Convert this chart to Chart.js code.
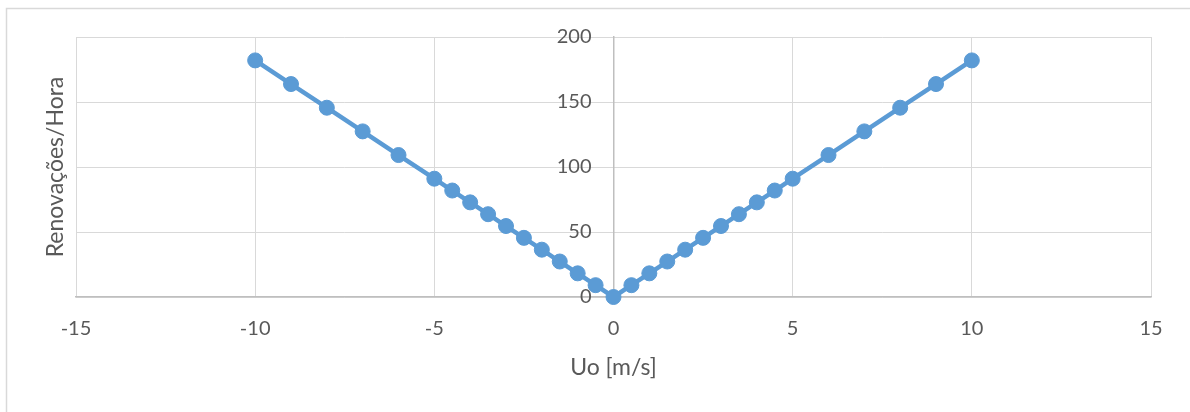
<!DOCTYPE html>
<html>
<head>
<meta charset="utf-8">
<title>Renovações/Hora</title>
<script src="https://cdn.jsdelivr.net/npm/chart.js@4/dist/chart.umd.min.js"></script>
<style>
  html, body { margin: 0; padding: 0; background: #fff; }
  #wrap { width: 1190px; height: 412px; position: relative; }
</style>
</head>
<body>
<div id="wrap"><canvas id="renovChart" width="1190" height="412"></canvas></div>
<script>
// velocidade do vento (m/s) e renovações de ar por hora
const velocidade = [-10, -9, -8, -7, -6, -5, -4.5, -4, -3.5, -3, -2.5, -2, -1.5, -1, -0.5,
                    0, 0.5, 1, 1.5, 2, 2.5, 3, 3.5, 4, 4.5, 5, 6, 7, 8, 9, 10];
const renovacoes = [182, 163.8, 145.6, 127.4, 109.2, 91, 81.9, 72.8, 63.7, 54.6, 45.5, 36.4, 27.3, 18.2, 9.1,
                    0, 9.1, 18.2, 27.3, 36.4, 45.5, 54.6, 63.7, 72.8, 81.9, 91, 109.2, 127.4, 145.6, 163.8, 182];
const xTicks = [-15, -10, -5, 0, 5, 10, 15];
const yTicks = [0, 50, 100, 150, 200];

const azul = '#5B9BD5';
const textColor = '#595959';
const fontFamily = 'Lato, "Open Sans", sans-serif';

// frame around the whole chart plus the y labels / title next to the centred axis
const extras = {
    id: 'extras',
    beforeDraw(chart) {
        const ctx = chart.ctx;
        ctx.save();
        ctx.fillStyle = '#fff';
        ctx.fillRect(0, 0, chart.width, chart.height);
        ctx.strokeStyle = '#d9d9d9';
        ctx.lineWidth = 1.5;
        ctx.strokeRect(6.5, 8.5, chart.width + 20, chart.height + 20);
        ctx.restore();
    },
    afterDraw(chart) {
        const ctx = chart.ctx;
        const y = chart.scales.y;
        const x0 = chart.scales.x.getPixelForValue(0);
        ctx.save();
        ctx.fillStyle = textColor;
        ctx.font = '20px ' + fontFamily;
        ctx.textAlign = 'right';
        ctx.textBaseline = 'middle';
        y.ticks.forEach(t => {
            ctx.fillText(String(t.value), x0 - 22, y.getPixelForValue(t.value));
        });
        ctx.font = '23px ' + fontFamily;
        ctx.textAlign = 'center';
        ctx.translate(56, (chart.chartArea.top + chart.chartArea.bottom) / 2);
        ctx.rotate(-Math.PI / 2);
        ctx.fillText('Renovações/Hora', 0, 0);
        ctx.restore();
    }
};

const ctx = document.getElementById('renovChart').getContext('2d');
new Chart(ctx, {
    type: 'scatter',
    data: {
        datasets: [{
            data: velocidade.map((v, i) => ({ x: v, y: renovacoes[i] })),
            showLine: true,
            clip: false,
            borderColor: azul,
            backgroundColor: azul,
            borderWidth: 4.5,
            pointRadius: 7.5,
            pointBorderWidth: 1,
            pointBorderColor: azul,
            tension: 0
        }]
    },
    options: {
        responsive: false,
        animation: false,
        devicePixelRatio: 1,
        layout: { padding: { left: 76, top: 37, right: 39, bottom: 0 } },
        plugins: {
            legend: { display: false },
            tooltip: { enabled: false }
        },
        scales: {
            x: {
                type: 'linear',
                min: -15,
                max: 15,
                afterBuildTicks: s => { s.ticks = xTicks.map(v => ({ value: v })); },
                afterFit: s => { s.height = 115; },
                grid: { color: '#d9d9d9', lineWidth: 1, drawTicks: false },
                border: { color: '#bfbfbf', width: 1.5 },
                ticks: {
                    color: textColor,
                    font: { family: fontFamily, size: 20 },
                    padding: 20,
                    maxRotation: 0
                },
                title: {
                    display: true,
                    text: 'Uo [m/s]',
                    color: textColor,
                    font: { family: fontFamily, size: 23 },
                    padding: { top: 4, bottom: 31 }
                }
            },
            y: {
                type: 'linear',
                min: 0,
                max: 200,
                position: { x: 0 },
                afterBuildTicks: s => { s.ticks = yTicks.map(v => ({ value: v })); },
                grid: { color: '#d9d9d9', lineWidth: 1, drawTicks: false },
                border: { color: '#bfbfbf', width: 1.5 },
                ticks: { display: false }
            }
        }
    },
    plugins: [extras]
});
</script>
</body>
</html>
